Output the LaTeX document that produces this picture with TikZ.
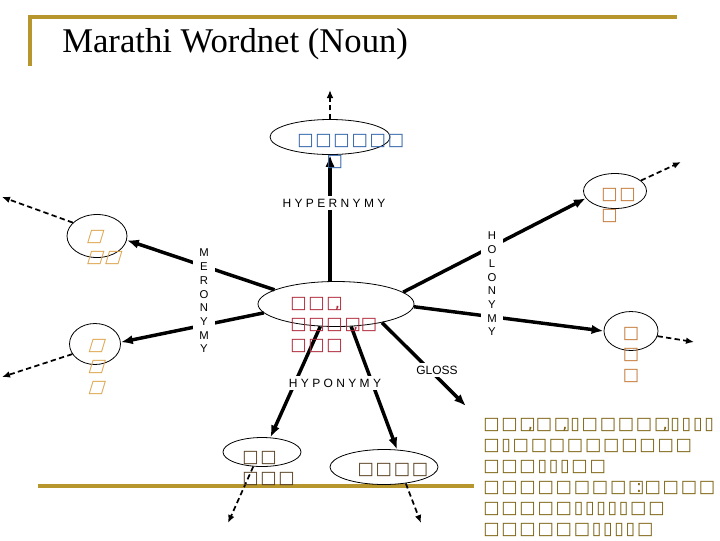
\documentclass[tikz,border=0pt]{standalone}
\usepackage{fontspec}
\setmainfont{Liberation Serif}
\newfontfamily\lblfont{Liberation Sans}
\newfontfamily\boxfont[LetterSpace=10]{DejaVu Sans}
\newfontfamily\boxslant[LetterSpace=10,FakeSlant=0.3]{DejaVu Sans}
\usetikzlibrary{arrows.meta,shapes.geometric}
\definecolor{gold}{HTML}{B8962E}
\definecolor{hyperblue}{HTML}{2F62A8}
\definecolor{synred}{HTML}{B0283A}
\definecolor{holobrown}{HTML}{C47A3A}
\definecolor{meroamber}{HTML}{DDA24A}
\definecolor{hypobrown}{HTML}{5A4222}
\definecolor{glossolive}{HTML}{7E6414}
\makeatletter
\newcommand{\spaced}[1]{\@tfor\sp@c:=#1\do{\sp@c\kern2.5pt}\unkern}
\makeatother
\newcommand{\cm}{\llap{,\kern2pt}}
\newcommand{\cl}{\llap{:\kern2pt}}
\tikzset{
  synset/.style={draw=black, ellipse, line width=0.6pt, inner sep=0pt},
  relarrow/.style={line width=2.6pt, -{Latex[length=9pt,width=7pt]}},
  outarrow/.style={line width=1.3pt, dash pattern=on 4pt off 2.5pt, -{Latex[length=6pt,width=5pt]}},
  rellabel/.style={fill=white, inner sep=2pt, font=\lblfont\fontsize{9}{10}\selectfont},
  vlabel/.style={fill=white, inner xsep=5pt, inner ysep=1pt, align=center,
    font=\lblfont\fontsize{8.5}{10.3}\selectfont},
  boxtext/.style={inner sep=0pt, align=left, font=\boxfont\fontsize{13}{15.75}\selectfont},
  slanttext/.style={boxtext, font=\boxslant\fontsize{13}{15.75}\selectfont}
}
\begin{document}
\begin{tikzpicture}[x=0.75pt,y=-0.75pt]
\useasboundingbox (0,0) rectangle (720,540);
\draw[gold,line width=2.3pt] (30,66) -- (30,17) -- (677,17);
\draw[gold,line width=2.3pt] (38,486) -- (474,486);
\node[anchor=base west,inner sep=0pt,font=\fontsize{26}{30}\selectfont] (title) at (62,52) {Marathi Wordnet (Noun)};

\node[synset,minimum width=117pt,minimum height=33.75pt] (syn) at (336,304) {};
\node[synset,minimum width=90pt,minimum height=26.25pt] (hyper) at (330,137) {};
\node[synset,minimum width=47.25pt,minimum height=26.25pt] (holoA) at (615,191) {};
\node[synset,minimum width=40.5pt,minimum height=29.25pt] (holoB) at (631,331) {};
\node[synset,minimum width=45pt,minimum height=32.25pt] (meroA) at (97,236) {};
\node[synset,minimum width=38.25pt,minimum height=30.75pt] (meroB) at (95,344) {};
\node[synset,minimum width=58.5pt,minimum height=21.75pt] (hypoA) at (262,452) {};
\node[synset,minimum width=81pt,minimum height=26.25pt] (hypoB) at (384,467) {};

\coordinate (hyperOut) at (330,90);
\coordinate (holoAOut) at (681,162);
\coordinate (holoBOut) at (694,342);
\coordinate (meroAOut) at (2,197);
\coordinate (meroBOut) at (2,377);
\coordinate (hypoAOut) at (228,523);
\coordinate (hypoBOut) at (421,523);
\coordinate (glossEnd) at (466,406);

\draw[relarrow] (syn.north -| hyper.south) -- (hyper.south);
\draw[relarrow] (syn.167) -- (meroA.-8);
\draw[relarrow] (syn.187) -- (meroB.4);
\draw[relarrow] (syn.10) -- (holoA.194);
\draw[relarrow] (syn.-2) -- (holoB.west);
\draw[relarrow] (syn.-22) -- (glossEnd);
\draw[relarrow] (syn.235) -- (hypoA.60);
\draw[relarrow] (syn.-56) -- (hypoB.53);

\draw[outarrow] (hyper.north) -- (hyperOut);
\draw[outarrow] (holoA.22) -- (holoAOut);
\draw[outarrow] (holoB.-11) -- (holoBOut);
\draw[outarrow] (meroA.151) -- (meroAOut);
\draw[outarrow] (meroB.204) -- (meroBOut);
\draw[outarrow] (hypoA.239) -- (hypoAOut);
\draw[outarrow] (hypoB.-37) -- (hypoBOut);

\node[rellabel] (hyperLbl) at (334,203) {\spaced{HYPERNYMY}};
\node[rellabel] (hypoLbl) at (335,383) {\spaced{HYPONYMY}};
\node[rellabel] (glossLbl) at (437,370) {GLOSS};
\node[vlabel] (meroLbl) at (204,301) {M\\E\\R\\O\\N\\Y\\M\\Y};
\node[vlabel] (holoLbl) at (492,284) {H\\O\\L\\O\\N\\Y\\M\\Y};

\node[boxtext,text=hyperblue,anchor=west] (hyperTxt) at (297,151) {□□□□□□\\\hspace*{22pt}□};
\node[boxtext,text=synred,anchor=west] (synTxt) at (290,324.5) {□□□\cm\\□□□□\cm□\\□□□};
\node[slanttext,text=meroamber,anchor=west] (meroATxt) at (86,247.5) {□\\□□};
\node[slanttext,text=meroamber,align=center] (meroBTxt) at (96,366.5) {□\\□\\□};
\node[boxtext,text=holobrown,anchor=west] (holoATxt) at (601,205) {□□\\□};
\node[boxtext,text=holobrown,align=center] (holoBTxt) at (631,355) {□\\□\\□};
\node[boxtext,text=hypobrown,anchor=west] (hypoATxt) at (242,468.5) {□□\\□□□};
\node[boxtext,text=hypobrown] (hypoBTxt) at (393,470) {□□□□};
\node[boxtext,text=glossolive,anchor=west,fill=white] (glossTxt) at (483,477.5) {□□□\cm□□\cm▯□□□□□\cm▯▯▯▯\\□▯□□□□□□□□□□\\□□□▯▯▯□□\\□□□□□□□□□\cl□□□□\\□□□□□▯▯▯▯▯□□\\□□□□□□▯▯▯▯□};
\end{tikzpicture}
\end{document}
